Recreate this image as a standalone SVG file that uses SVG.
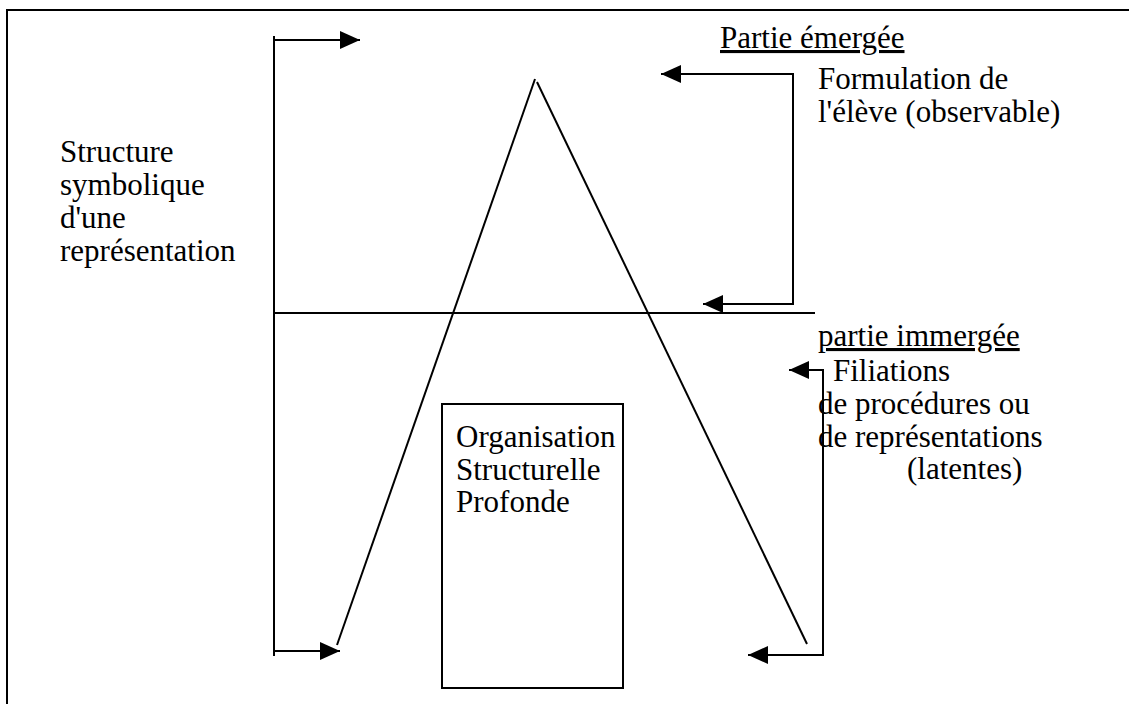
<svg xmlns="http://www.w3.org/2000/svg" width="1129" height="704" viewBox="0 0 1129 704">
<style>
.t{font-family:"Liberation Serif","Times New Roman",serif;font-size:31px;fill:#000}
.l{stroke:#000;stroke-width:2;fill:none}
.u{text-decoration:underline}
</style>
<defs>
<marker id="ah" viewBox="0 0 20 18" refX="20" refY="9" markerWidth="20" markerHeight="18" markerUnits="userSpaceOnUse" orient="auto">
<path d="M0,0 L20,9 L0,18 Z" fill="#000"/>
</marker>
</defs>
<rect x="0" y="0" width="1129" height="704" fill="#fff"/>
<rect id="frame" x="7" y="10" width="1130" height="710" class="l"/>
<g id="connectors">
<polyline class="l" points="274,36 274,656"/>
<polyline class="l" points="274,40 360,40" marker-end="url(#ah)"/>
<polyline class="l" points="274,651 340,651" marker-end="url(#ah)"/>
<polyline class="l" points="793,302 793,74 661,74" marker-end="url(#ah)"/>
<polyline class="l" points="793,74 793,304 703,304" marker-end="url(#ah)"/>
<line class="l" x1="275" y1="313" x2="815" y2="313"/>
<polyline class="l" points="823,655 823,370 789,370" marker-end="url(#ah)"/>
<polyline class="l" points="823,370 823,655 748,655" marker-end="url(#ah)"/>
<line class="l" x1="535" y1="79" x2="337" y2="645"/>
<line class="l" x1="537" y1="82" x2="807" y2="644"/>
</g>
<g id="structure-label">
<text class="t" x="60" y="162">Structure</text>
<text class="t" x="60" y="195">symbolique</text>
<text class="t" x="60" y="228">d'une</text>
<text class="t" x="60" y="261">représentation</text>
</g>
<g id="partie-emergee">
<text class="t u" x="720" y="48">Partie émergée</text>
<text class="t" x="818" y="89">Formulation de</text>
<text class="t" x="818" y="122">l'élève (observable)</text>
</g>
<g id="partie-immergee">
<text class="t u" x="818" y="346">partie immergée</text>
<text class="t" x="833" y="381">Filiations</text>
<text class="t" x="818" y="414">de procédures ou</text>
<text class="t" x="818" y="447">de représentations</text>
<text class="t" x="907" y="479">(latentes)</text>
</g>
<g id="organisation">
<rect class="l" x="442" y="404" width="181" height="284"/>
<text class="t" x="456" y="447">Organisation</text>
<text class="t" x="456" y="480">Structurelle</text>
<text class="t" x="456" y="512">Profonde</text>
</g>
</svg>
